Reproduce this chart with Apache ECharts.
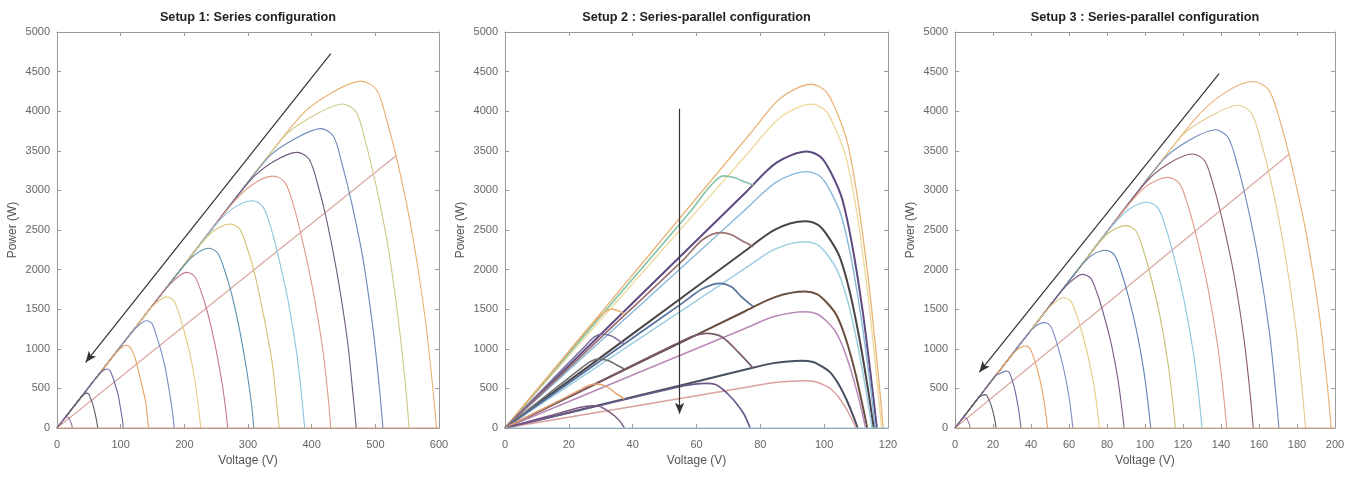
<!DOCTYPE html>
<html><head><meta charset="utf-8">
<script src="https://cdn.jsdelivr.net/npm/echarts@6/dist/echarts.min.js"></script>
<style>html,body{margin:0;padding:0;background:#fff}#c{width:1355px;height:478px}</style>
</head><body><div id="c"></div>
<script>
// ---------- data ----------
const titles = ['Setup 1: Series configuration', 'Setup 2 : Series-parallel configuration', 'Setup 3 : Series-parallel configuration'];
const xMax = [600, 120, 200];
const xStep = [100, 20, 20];
const yMax = 5000, yStep = 500;

// Setup 1: P-V curves (V, P)
const setup1Curves = [
 [[0,0],[239,2462],[382,3935],[430,4227],[478,4380],[502,4270],[519,3854],[537,3285],[558,2453],[578,1402],[590,526],[596,0]],
 [[0,0],[224.5,2312],[359,3698],[404,3947],[449,4090],[470,3988],[485,3599],[501,3068],[520,2290],[537,1309],[548,491],[553,0]],
 [[0,0],[207,2132],[331,3409],[373,3648],[414,3780],[434,3686],[448,3326],[463,2835],[481,2117],[497,1210],[507,454],[512,0]],
 [[0,0],[188.5,1942],[302,3111],[339,3358],[377,3480],[396,3393],[410,3062],[424,2610],[440,1949],[456,1114],[465,418],[470,0]],
 [[0,0],[170,1751],[272,2802],[306,3069],[340,3180],[358,3101],[372,2798],[385,2385],[401,1781],[417,1018],[426,382],[430,0]],
 [[0,0],[153.5,1581],[246,2534],[276,2770],[307,2870],[323,2798],[336,2526],[348,2153],[363,1607],[377,918],[385,344],[389,0]],
 [[0,0],[136,1401],[218,2245],[245,2485],[272,2575],[287,2511],[299,2266],[311,1931],[324,1442],[338,824],[345,309],[349,0]],
 [[0,0],[119,1226],[190,1957],[214,2171],[238,2270],[252,2213],[263,1998],[274,1703],[286,1271],[298,726],[306,272],[309,0]],
 [[0,0],[101.5,1045],[162,1669],[183,1857],[203,1965],[216,1916],[226,1729],[236,1474],[247,1100],[258,629],[265,236],[268,0]],
 [[0,0],[86,886],[138,1421],[155,1573],[172,1655],[183,1614],[191,1456],[199,1241],[209,927],[218,530],[223,199],[226,0]],
 [[0,0],[70,721],[112,1154],[126,1278],[140,1355],[149,1321],[155,1192],[162,1016],[170,759],[177,434],[182,163],[184,0]],
 [[0,0],[54,556],[86,886],[97,984],[108,1045],[115,1019],[121,920],[126,784],[132,585],[139,334],[142,125],[144,0]],
 [[0,0],[39,402],[62,639],[70,710],[78,745],[83,726],[87,656],[91,559],[96,417],[100,238],[103,89],[104,0]],
 [[0,0],[23,237],[37,381],[41,416],[46,440],[50,429],[52,387],[55,330],[58,246],[61,141],[63,53],[64,0]],
 [[0,0],[6,62],[12,124],[13.5,135],[15,140],[17,137],[19,123],[21,84],[23,45],[24,0]]
];
const setup1Lower = [[0,0],[533,3440]];
const setup1Zero = [[0,0],[600,0]];
const setup1Arrow = [[430,4726],[45,830]];

// Setup 2
const setup2Big = [
 [[0,0],[40,1935],[76.8,3715],[86.4,4166],[96,4340],[100.5,4253],[103.9,3993],[107.3,3602],[110.6,2864],[114,1823],[116.7,781],[118.5,0]],
 [[0,0],[40,1823],[76.8,3501],[86.4,3926],[96,4090],[100.4,4008],[103.7,3763],[107,3395],[110.3,2699],[113.6,1718],[116.2,736],[118,0]],
 [[0,0],[40,1578],[75.7,2987],[85.1,3350],[94.6,3490],[99,3420],[102.3,3211],[105.6,2897],[108.8,2303],[112.1,1466],[114.7,628],[116.5,0]],
 [[0,0],[40,1464],[75.7,2771],[85.1,3108],[94.6,3237],[98.9,3172],[102.1,2978],[105.3,2687],[108.5,2136],[111.7,1360],[114.3,583],[116,0]],
 [[0,0],[40,1188],[75.2,2234],[84.6,2506],[94,2610],[98.3,2558],[101.5,2401],[104.8,2166],[108,1723],[111.2,1096],[113.8,470],[115.5,0]],
 [[0,0],[40,1071],[75.2,2014],[84.6,2259],[94,2353],[98.2,2306],[101.4,2165],[104.5,1953],[107.7,1553],[110.8,988],[113.3,424],[115,0]],
 [[0,0],[40,784],[75.2,1474],[84.6,1653],[94,1722],[97.9,1688],[100.8,1584],[103.8,1429],[106.7,1137],[109.6,723],[111.9,310],[113.5,0]],
 [[0,0],[40,669],[75.2,1257],[84.6,1410],[94,1469],[97.8,1440],[100.7,1351],[103.5,1219],[106.4,970],[109.2,617],[111.5,264],[113,0]],
 [[0,0],[40,391],[74.4,728],[83.7,816],[93,850],[96.5,833],[99.1,782],[101.8,706],[104.4,561],[107,357],[109.1,153],[110.5,0]],
 [[0,0],[40,272],[75.2,511],[84.6,573],[94,597],[97.2,585],[99.6,549],[102,496],[104.4,394],[106.8,251],[108.7,107],[110,0]]
];
const setup2Mid = [
 [[0,0],[30,1412],[58,2730],[64,3040],[68.4,3183],[72,3160],[75,3110],[77.8,3069]],
 [[0,0],[30,1141],[56,2130],[62,2380],[67.4,2467],[71,2440],[74,2370],[77.8,2290]],
 [[0,0],[30,852],[56,1590],[62,1760],[67.4,1827],[71,1780],[74,1660],[77.8,1532]],
 [[0,0],[30,594],[53,1050],[59,1160],[63.2,1196],[68,1150],[73,960],[77.8,754]],
 [[0,0],[30,287],[53.7,513],[58.8,550],[63.2,564],[66,550],[68,496],[70,423],[72.4,316],[74.8,180],[76.1,68],[76.8,0]]
];
const setup2Small = [
 [[0,0],[14,674],[27,1300],[30.5,1440],[33.2,1504],[35.5,1480],[37.4,1441]],
 [[0,0],[14,577],[25,1030],[28,1150],[30.5,1188],[33.5,1160],[35.5,1110],[37.4,1061]],
 [[0,0],[14,443],[24,760],[27,845],[29.5,872],[32.5,850],[35,795],[37.4,746]],
 [[0,0],[14,286],[23,470],[26.5,540],[29,556],[32,520],[35,430],[37.4,366]],
 [[0,0],[14,155],[23.3,258],[25.5,275],[27.4,282],[29.4,276],[30.9,248],[32.4,211],[34.2,158],[35.9,90],[36.9,34],[37.4,0]]
];
const setup2Zero = [[0,0],[120,0]];
const setup2Arrow = [[54.7,4030],[54.7,180]];

// Setup 3
const setup3Curves = [
 [[0,0],[78.5,2426],[125.6,3881],[141.3,4222],[157,4375],[165.2,4266],[171.4,3850],[177.5,3281],[184.9,2450],[191.9,1400],[196,525],[198,0]],
 [[0,0],[74.5,2302],[119.2,3683],[134.1,3932],[149,4075],[156.1,3973],[161.4,3586],[166.8,3056],[173.1,2282],[179.2,1304],[182.7,489],[184.5,0]],
 [[0,0],[68.5,2117],[109.6,3387],[123.3,3633],[137,3765],[143.7,3671],[148.7,3313],[153.8,2824],[159.8,2108],[165.5,1205],[168.8,452],[170.5,0]],
 [[0,0],[62.5,1931],[100,3090],[112.5,3339],[125,3460],[131.4,3374],[136.2,3045],[141,2595],[146.8,1938],[152.2,1107],[155.4,415],[157,0]],
 [[0,0],[56,1730],[89.6,2769],[100.8,3054],[112,3165],[118.2,3086],[122.9,2785],[127.5,2374],[133.1,1772],[138.4,1013],[141.5,380],[143,0]],
 [[0,0],[50.5,1560],[80.8,2497],[90.9,2750],[101,2850],[106.8,2779],[111.2,2508],[115.5,2138],[120.7,1596],[125.7,912],[128.6,342],[130,0]],
 [[0,0],[45,1391],[72,2225],[81,2465],[90,2555],[95.2,2491],[99.1,2248],[103,1916],[107.7,1431],[112.1,818],[114.7,307],[116,0]],
 [[0,0],[39.5,1221],[63.2,1953],[71.1,2164],[79,2245],[83.8,2189],[87.4,1976],[91,1684],[95.3,1257],[99.4,718],[101.8,269],[103,0]],
 [[0,0],[33.5,1035],[53.6,1656],[60.3,1835],[67,1940],[71.4,1892],[74.7,1707],[78,1455],[82,1086],[85.7,621],[87.9,233],[89,0]],
 [[0,0],[28.5,881],[45.6,1409],[51.3,1561],[57,1645],[60.8,1604],[63.7,1448],[66.5,1234],[69.9,921],[73.2,526],[75.1,197],[76,0]],
 [[0,0],[23.5,726],[37.6,1162],[42.3,1283],[47,1330],[50,1297],[52.3,1170],[54.5,998],[57.2,745],[59.8,426],[61.3,160],[62,0]],
 [[0,0],[18.5,572],[29.6,915],[33.3,999],[37,1035],[39.3,1009],[41.1,911],[42.9,776],[45,580],[46.9,331],[48.1,124],[48.7,0]],
 [[0,0],[13.5,417],[21.6,667],[24.3,695],[27,720],[28.5,702],[29.7,634],[30.9,540],[32.2,403],[33.5,230],[34.3,86],[34.7,0]],
 [[0,0],[7.75,239],[12.4,383],[13.95,407],[15.5,422],[16.7,411],[17.6,371],[18.55,317],[19.65,236],[20.7,135],[21.3,51],[21.6,0]],
 [[0,0],[2,62],[4,124],[4.5,128],[5,130],[5.6,127],[6.3,114],[7,78],[7.6,42],[8,0]]
];
const setup3Lower = [[0,0],[176,3460]];
const setup3Zero = [[0,0],[200,0]];
const setup3Arrow = [[139,4473],[12.8,705]];

// ---------- styles ----------
const pal1 = ['#e8b070','#cfc98a','#6a88b8','#6e5a7a','#e09a88','#8cc4e0','#d4c070','#5e90b0','#c47a88','#e6cc80','#7a8cc0','#e8a060','#6a6aa0','#5a5a6a','#9070a0'];
const pal3 = ['#e8b070','#e3c98a','#6a88b8','#8a5a6a','#e09a88','#8cc4e0','#c8c070','#5e80b0','#7a5a88','#e6cc80','#7a8cc0','#e8a060','#6a6aa0','#5a5a6a','#9070a0'];
const palBig = ['#e8b478','#eed898','#5c4a80','#88b8d8','#4a4446','#9ccfe0','#6a4e3e','#b888b8','#46505e','#dca0a0'];
const wBig = [1.3,1.3,2,1.4,2,1.5,2,1.5,2,1.5];
const palMid = ['#86c4a6','#9a7070','#56709e','#7a5a6e','#6a5a8c'];
const palSmall = ['#e8b070','#7c6c9c','#6c6c6c','#e4a070','#7a5a82'];

const grids = [
 {left:57, top:32, width:382, height:396},
 {left:505, top:32, width:383, height:396},
 {left:955, top:32, width:380, height:396}
];
const boxColor = '#9a9a9a';
const labelColor = '#666';
const FONT = 'Liberation Sans';

const xAxes = [], yAxes = [], titleOpts = [];
grids.forEach((g, i) => {
  const common = {gridIndex:i, type:'value', min:0, max:xMax[i], interval:xStep[i], splitLine:{show:false},
    axisLine:{show:true, onZero:false, lineStyle:{color:boxColor, width:1}},
    axisTick:{show:true, inside:true, length:4, lineStyle:{color:boxColor}}};
  xAxes.push(Object.assign({}, common, {position:'bottom', name:'Voltage (V)', nameLocation:'middle', nameGap:27,
    nameTextStyle:{fontSize:12, color:'#555', fontFamily:FONT},
    axisLabel:{fontSize:11, color:labelColor, margin:11, fontFamily:FONT, formatter:v => String(v)}}));
  xAxes.push(Object.assign({}, common, {position:'top', axisLabel:{show:false}}));
  const ycommon = {gridIndex:i, type:'value', min:0, max:yMax, interval:yStep, splitLine:{show:false},
    axisLine:{show:true, onZero:false, lineStyle:{color:boxColor, width:1}},
    axisTick:{show:true, inside:true, length:4, lineStyle:{color:boxColor}}};
  yAxes.push(Object.assign({}, ycommon, {position:'left', name:'Power (W)', nameLocation:'middle', nameGap:38,
    nameTextStyle:{fontSize:12, color:'#555', fontFamily:FONT},
    axisLabel:{fontSize:11, color:labelColor, margin:7, fontFamily:FONT, formatter:v => String(v)}}));
  yAxes.push(Object.assign({}, ycommon, {position:'right', axisLabel:{show:false}}));
  titleOpts.push({text:titles[i], left:g.left + g.width/2, top:11, padding:0, textAlign:'center',
    textStyle:{fontSize:12.7, fontWeight:'bold', color:'#222', fontFamily:FONT}});
});

const series = [];
function addLine(gi, data, color, width, z) {
  series.push({type:'line', xAxisIndex:gi*2, yAxisIndex:gi*2, data:data, symbol:'none', showSymbol:false,
    smooth:0.3, silent:true, animation:false, z:z||2, lineStyle:{color:color, width:width}});
}
function addArrow(gi, data, arrow, color) {
  series.push({type:'line', xAxisIndex:gi*2, yAxisIndex:gi*2, data:data, symbol:'none', showSymbol:false,
    silent:true, animation:false, z:3, lineStyle:{color:color, width:1.2},
    markLine:{silent:true, animation:false, symbol:['none','arrow'], symbolSize:[7,11], label:{show:false},
      lineStyle:{color:'#333', width:1.2, type:'solid'},
      data:[[{coord:arrow[0]},{coord:arrow[1]}]]}});
}

// Setup 1
addLine(0, setup1Lower, '#d9a8a0', 1.2, 1);
setup1Curves.forEach((d, k) => addLine(0, d, pal1[k], 1.1));
addArrow(0, setup1Zero, setup1Arrow, '#e39a7c');
// Setup 2
setup2Big.forEach((d, k) => addLine(1, d, palBig[k], wBig[k]));
setup2Mid.forEach((d, k) => addLine(1, d, palMid[k], 1.7));
setup2Small.forEach((d, k) => addLine(1, d, palSmall[k], 1.5));
addArrow(1, setup2Zero, setup2Arrow, '#8fd0e0');
// Setup 3
addLine(2, setup3Lower, '#d9a8a0', 1.2, 1);
setup3Curves.forEach((d, k) => addLine(2, d, pal3[k], 1.1));
addArrow(2, setup3Zero, setup3Arrow, '#e6b080');

const chart = echarts.init(document.getElementById('c'), null, {renderer:'canvas', width:1355, height:478});
chart.setOption({
  backgroundColor:'#fff',
  animation:false,
  title:titleOpts,
  grid:grids.map(g => Object.assign({containLabel:false, outerBoundsMode:'none'}, g)),
  xAxis:xAxes,
  yAxis:yAxes,
  series:series
});
</script></body></html>
